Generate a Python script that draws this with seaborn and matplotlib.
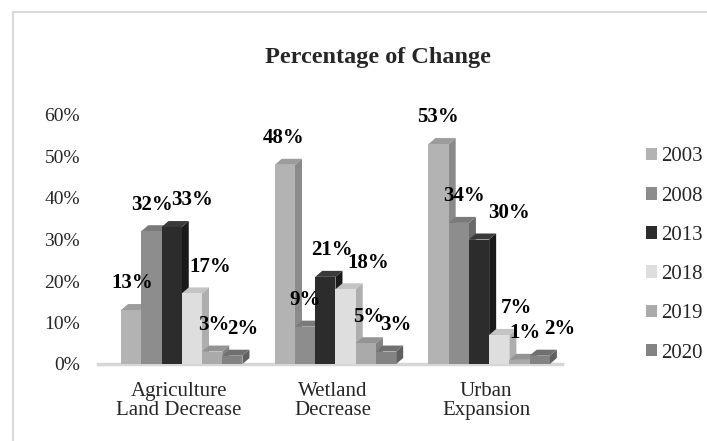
import matplotlib
matplotlib.use("Agg")
import matplotlib.pyplot as plt
import matplotlib.transforms as mtransforms
from matplotlib.patches import Polygon
from matplotlib.lines import Line2D
import seaborn as sns
import pandas as pd

categories = ["Agriculture\nLand Decrease", "Wetland\nDecrease", "Urban\nExpansion"]
years = ["2003", "2008", "2013", "2018", "2019", "2020"]
v2003 = [13, 48, 53]
v2008 = [32, 9, 34]
v2013 = [33, 21, 30]
v2018 = [17, 18, 7]
v2019 = [3, 5, 1]
v2020 = [2, 3, 2]
series = [v2003, v2008, v2013, v2018, v2019, v2020]
yticks = [0, 10, 20, 30, 40, 50, 60]

# styling
front_colors = ["#b3b3b3", "#8d8d8d", "#2c2c2c", "#dedede", "#aaaaaa", "#838383"]
side_colors = ["#8a8a8a", "#6a6a6a", "#1a1a1a", "#aeaeae", "#828282", "#606060"]
top_colors = ["#9c9c9c", "#7a7a7a", "#3a3a3a", "#c4c4c4", "#939393", "#707070"]
# horizontal nudges (pixels) of the value labels, per series and category
label_dx_px = [[1, -1, -1], [1, 0, 5], [20, 7, 30], [18, 23, 17], [2, 3, 5], [10, 10, 20]]

rows = []
for y, vals in zip(years, series):
    for c, v in zip(categories, vals):
        rows.append({"Category": c, "Year": y, "Value": v})
df = pd.DataFrame(rows)

sns.set_theme(style="white")
plt.rcParams["font.family"] = ["Liberation Serif", "DejaVu Serif"]

W, H = 707, 441
fig = plt.figure(figsize=(W / 100, H / 100), dpi=100)
ax_left, ax_right, ax_bottom, ax_top = 98, 562, 364, 115
ax = fig.add_axes([ax_left / W, 1 - ax_bottom / H, (ax_right - ax_left) / W,
                   (ax_bottom - ax_top) / H])

sns.barplot(data=df, x="Category", y="Value", hue="Year", hue_order=years,
            order=categories, palette=front_colors, width=0.79, ax=ax,
            saturation=1, errorbar=None, edgecolor="none", legend=False)

ax.set_xlim(-0.545, 2.474)
ax.set_ylim(0, 60)
ax.set_yticks(yticks)
ax.set_yticklabels([f"{t}%" for t in yticks], fontsize=14)
ax.set_xlabel("")
ax.set_ylabel("")
ax.tick_params(axis="x", labelsize=15, length=0, pad=13)
ax.tick_params(axis="y", length=0, pad=13)
for lab in ax.get_xticklabels():
    lab.set_linespacing(1.0)
    lab.set_transform(lab.get_transform() +
                      mtransforms.ScaledTranslation(-3 / 100, 0, fig.dpi_scale_trans))

for s in ["top", "right", "left"]:
    ax.spines[s].set_visible(False)
ax.spines["bottom"].set_color("#d6d6d6")
ax.spines["bottom"].set_linewidth(2.5)
ax.grid(False)

# pseudo-3D faces derived from the drawn bars
dx, dy = 7, 6
ident = mtransforms.IdentityTransform()
for i, cont in enumerate(ax.containers):
    for p in cont.patches:
        p.set_zorder(3 + 2 * i)
        x0, x1 = p.get_x(), p.get_x() + p.get_width()
        h = p.get_height()
        (px0, py0), (px1, py1) = ax.transData.transform([(x0, 0), (x1, h)])
        side = Polygon([(px1, py0), (px1, py1), (px1 + dx, py1 + dy), (px1 + dx, py0 + dy)],
                       closed=True, transform=ident, facecolor=side_colors[i],
                       edgecolor="none", zorder=2 + 2 * i, clip_on=False)
        top = Polygon([(px0, py1), (px1, py1), (px1 + dx, py1 + dy), (px0 + dx, py1 + dy)],
                      closed=True, transform=ident, facecolor=top_colors[i],
                      edgecolor="none", zorder=2 + 2 * i + 0.5, clip_on=False)
        ax.add_artist(side)
        ax.add_artist(top)
    anns = ax.bar_label(cont, labels=[f"{int(v)}%" for v in cont.datavalues],
                        fontsize=15, fontweight="bold", padding=12, color="black")
    for j, a in enumerate(anns):
        a.xyann = (label_dx_px[i][j] * 0.72, 12)
        a.set_zorder(30)

fig.text(378 / W, 1 - 57 / H, "Percentage of Change", fontsize=17.5,
         fontweight="bold", ha="center", va="center")

handles = [plt.Rectangle((0, 0), 1, 1, facecolor=c, edgecolor="none") for c in front_colors]
ax.legend(handles, years, loc="center left", bbox_to_anchor=(627 / W, 1 - 255 / H),
          bbox_transform=fig.transFigure, frameon=False, fontsize=15,
          handlelength=0.55, handleheight=0.55, labelspacing=0.97,
          handletextpad=0.2)

fig.add_artist(Line2D([13 / W, 1], [1 - 12 / H, 1 - 12 / H], transform=fig.transFigure,
                      color="#d9d9d9", linewidth=1.5))
fig.add_artist(Line2D([13 / W, 13 / W], [0, 1 - 12 / H], transform=fig.transFigure,
                      color="#d9d9d9", linewidth=1.5))

fig.savefig("out.png", dpi=100)
